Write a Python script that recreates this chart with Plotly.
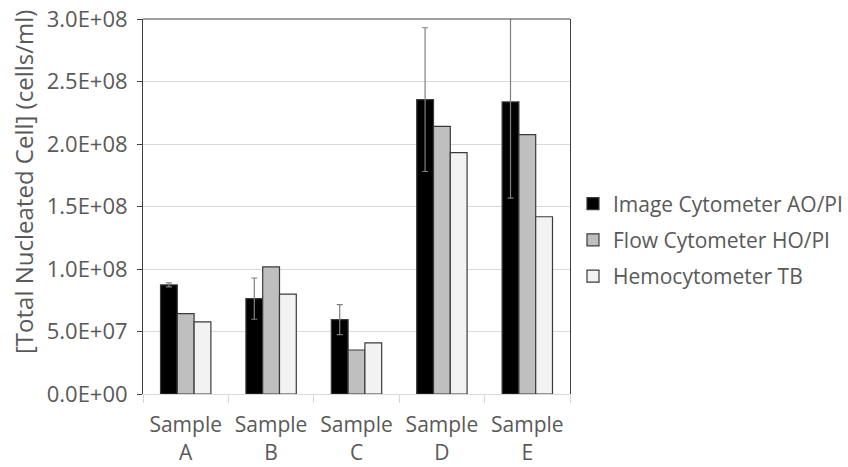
import plotly.graph_objects as go

sample_names = ["A", "B", "C", "D", "E"]
series_names = ["Image Cytometer AO/PI", "Flow Cytometer HO/PI", "Hemocytometer TB"]
image_ao_pi = [8.73e7, 7.63e7, 5.95e7, 2.355e8, 2.337e8]
image_ao_pi_err = [1.6e6, 1.65e7, 1.2e7, 5.75e7, 7.7e7]
flow_ho_pi = [6.43e7, 1.017e8, 3.52e7, 2.141e8, 2.075e8]
hemocytometer_tb = [5.77e7, 7.99e7, 4.09e7, 1.931e8, 1.418e8]
ytick_vals = [0, 5e7, 1e8, 1.5e8, 2e8, 2.5e8, 3e8]
ytick_labels = ["0.0E+00", "5.0E+07", "1.0E+08", "1.5E+08", "2.0E+08", "2.5E+08", "3.0E+08"]
colors = ["#000000", "#bfbfbf", "#f2f2f2"]

categories = ["Sample<br>%s" % s for s in sample_names]

FONT = "Open Sans"
TXT = "#595959"

W, H = 848, 467
L, T = 143, 19
PW, PH = 427, 375
R, B = W - L - PW, H - T - PH

fig = go.Figure()
fig.add_trace(go.Bar(
    x=categories, y=image_ao_pi, name=series_names[0], legendgroup="a",
    marker=dict(color=colors[0], line=dict(color="#3a3a3a", width=1.2)),
    error_y=dict(type="data", array=image_ao_pi_err, visible=True,
                 color="#808080", thickness=1.2, width=3),
))
fig.add_trace(go.Bar(
    x=categories, y=flow_ho_pi, name=series_names[1], legendgroup="b",
    marker=dict(color=colors[1], line=dict(color="#3a3a3a", width=1.2)),
))
fig.add_trace(go.Bar(
    x=categories, y=hemocytometer_tb, name=series_names[2], legendgroup="c",
    marker=dict(color=colors[2], line=dict(color="#3a3a3a", width=1.2)),
))

fig.update_layout(
    width=W, height=H,
    margin=dict(l=L, r=R, t=T, b=B, autoexpand=False),
    paper_bgcolor="white", plot_bgcolor="white",
    barmode="group", bargap=0.41, bargroupgap=0,
    font=dict(family=FONT, size=22, color=TXT),
    showlegend=True,
    legend=dict(x=1.007, xanchor="left", y=0.411, yanchor="middle",
                font=dict(family=FONT, size=21, color=TXT),
                traceorder="grouped", tracegroupgap=6,
                bgcolor="rgba(0,0,0,0)", itemwidth=30),
    xaxis=dict(
        automargin=False, ticklabeloverflow="allow",
        showgrid=False, showline=True, linecolor="#d9d9d9", linewidth=1,
        ticks="outside", tickson="boundaries", ticklen=8, tickcolor="#d9d9d9",
        tickfont=dict(family=FONT, size=21, color=TXT),
        ticklabelstandoff=12,
    ),
    yaxis=dict(
        automargin=False, ticklabeloverflow="allow",
        range=[0, 3e8], tickvals=ytick_vals, ticktext=ytick_labels,
        showgrid=True, gridcolor="#d9d9d9", gridwidth=1,
        zeroline=False, showline=True, linecolor="#404040", linewidth=1,
        mirror=True, ticks="outside", ticklen=5, tickcolor="#404040",
        tickfont=dict(family=FONT, size=22, color=TXT),
        ticklabelstandoff=5,
    ),
    shapes=[dict(type="line", xref="paper", yref="paper", x0=0, x1=1, y0=1, y1=1,
                 line=dict(color="#404040", width=1))],
    annotations=[dict(text="[Total Nucleated Cell] (cells/ml)", xref="paper", yref="paper",
                      x=(23 - L) / PW, y=(PH + T - 182) / PH, xanchor="center", yanchor="middle",
                      textangle=-90, showarrow=False,
                      font=dict(family=FONT, size=24, color=TXT))],
)

fig.write_html("out.html", config={"displayModeBar": False},
               post_script="document.body.style.margin='0px';")
